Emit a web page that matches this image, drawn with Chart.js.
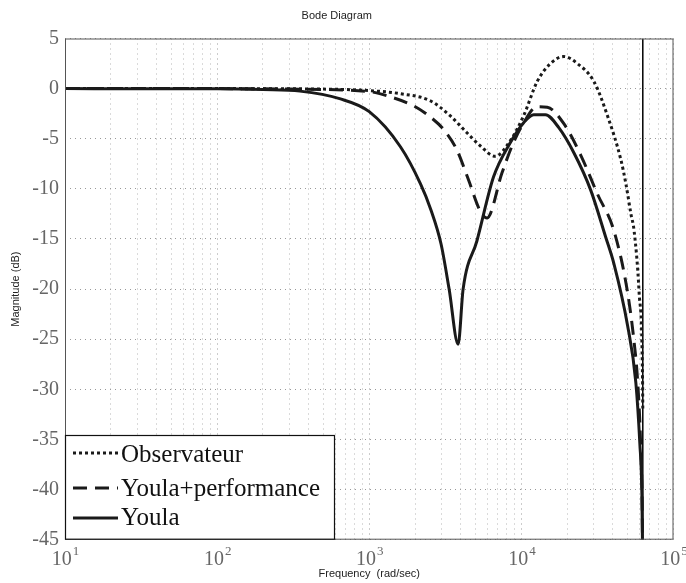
<!DOCTYPE html>
<html>
<head>
<meta charset="utf-8">
<script src="https://cdn.jsdelivr.net/npm/chart.js@4.4.1/dist/chart.umd.min.js"></script>
<style>
  html, body { margin: 0; padding: 0; background: #fff; }
  #wrap { width: 686px; height: 583px; }
</style>
</head>
<body>
<div id="wrap"><canvas id="bode"></canvas></div>
<script>
// Bode magnitude, values (rad/sec, dB)

const obsFreq = [10, 100, 500, 1000, 1590, 2506, 3400, 4385, 5360, 6730, 8450, 10350, 12700, 15520,
    19020, 23330, 30000, 36800, 45100, 48650, 52500, 55100, 59400, 62600, 62832]
const obsMag = [0, 0, -0.05, -0.2, -0.5, -1.2, -2.7, -4.4, -5.7, -6.75, -5.2, -2.7, 0.7, 2.5,
    3.2, 2.5, 0.7, -2.7, -7.1, -9.5, -12.5, -14.2, -20.3, -29, -32]

const perfFreq = [10, 100, 300, 1000, 1300, 1945, 2506, 3070, 3764, 4490, 5360, 5940, 7460, 8690,
    10350, 12700, 14790, 19020, 24500, 31600, 40640, 49860, 55100, 58000, 61000, 62300, 62800]
const perfMag = [0, 0, -0.05, -0.3, -0.7, -1.7, -2.8, -4.05, -6.1, -9.1, -12.2, -12.9, -8.4, -5.7,
    -3.4, -1.8, -1.85, -3.5, -6.6, -10.5, -14.2, -20.3, -25.3, -29, -36, -42, -50]

const youlaFreq = [10, 100, 200, 350, 638, 1000, 1603, 2172, 2530, 2965, 3350, 3840, 4140, 5100,
    6565, 8450, 10350, 12050, 14390, 17620, 22130, 28520, 35810, 40640, 49860, 56530, 60070, 61960, 62700]
const youlaMag = [0, -0.02, -0.1, -0.25, -1.0, -2.3, -5.8, -9.5, -12, -15.5, -20, -25.5, -20, -15.2,
    -8.8, -5.4, -3.4, -2.6, -2.6, -3.9, -6.4, -10.1, -14.8, -17.5, -23.6, -29.3, -35.4, -40.4, -47]

// vertical marker at the Nyquist frequency
const nyquistFreq = [62832, 62832]
const nyquistMag = [5, -45]

const seriesNames = ['Observateur', 'Youla+performance', 'Youla']

const xTickValues = [10, 100, 1000, 10000, 100000]
const xTickExponents = ['1', '2', '3', '4', '5']
const yMin = -45
const yMax = 5
const yStep = 5

const serif = '"Liberation Serif", "Times New Roman", serif'
const sans = '"Liberation Sans", Arial, sans-serif'

const toPoints = (xs, ys) => xs.map((x, i) => ({ x: x, y: ys[i] }))

// grid positions 1..9 per decade
let xGrid = []
for (let d = 10; d < 100000; d *= 10) {
    for (let m = 1; m < 10; m++) xGrid.push(m * d)
}
xGrid.push(100000)

const styles = [
    { dash: [3, 3] },
    { dash: [14, 8] },
    { dash: [] }
]

const legendBox = {
    id: 'legendBox',
    afterDraw(chart) {
        const { ctx, chartArea: a } = chart
        ctx.save()

        // frame round the axes
        ctx.strokeStyle = '#555'
        ctx.lineWidth = 1
        ctx.strokeRect(a.left + 0.5, a.top + 0.5, a.right - a.left - 1, a.bottom - a.top - 1)

        // x labels as 10^n
        ctx.fillStyle = '#666'
        ctx.textBaseline = 'alphabetic'
        xTickValues.forEach((v, i) => {
            const px = chart.scales.x.getPixelForValue(v)
            ctx.font = '20px ' + serif
            const w1 = ctx.measureText('10').width
            ctx.font = '13px ' + serif
            const w2 = ctx.measureText(xTickExponents[i]).width
            const left = px - (w1 + w2) / 2
            ctx.font = '20px ' + serif
            ctx.textAlign = 'left'
            ctx.fillText('10', left, 565)
            ctx.font = '13px ' + serif
            ctx.fillText(xTickExponents[i], left + w1 + 1, 555)
        })

        // legend
        const x0 = a.left + 0.5
        const y1 = a.bottom - 0.5
        const top = 435.5
        const right = 334.5
        ctx.fillStyle = '#fff'
        ctx.fillRect(x0, top, right - x0, y1 - top)
        ctx.strokeStyle = '#111'
        ctx.lineWidth = 1.2
        ctx.strokeRect(x0, top, right - x0, y1 - top)

        const rows = [453, 488, 518]
        const base = [462, 496, 525]
        ctx.font = '25px ' + serif
        ctx.textAlign = 'left'
        seriesNames.forEach((name, i) => {
            ctx.strokeStyle = '#1a1a1a'
            ctx.lineWidth = 3
            ctx.setLineDash(styles[i].dash)
            ctx.beginPath()
            ctx.moveTo(73, rows[i])
            ctx.lineTo(118, rows[i])
            ctx.stroke()
            ctx.setLineDash([])
            ctx.fillStyle = '#111'
            ctx.fillText(name, 121, base[i])
        })
        ctx.restore()
    }
}

const ctx = document.getElementById('bode').getContext('2d')

const seriesData = [toPoints(obsFreq, obsMag), toPoints(perfFreq, perfMag), toPoints(youlaFreq, youlaMag)]

let datasets = seriesNames.map((name, i) => ({
    label: name,
    data: seriesData[i],
    borderColor: '#1a1a1a',
    borderWidth: 3,
    borderDash: styles[i].dash,
    borderCapStyle: 'butt',
    pointRadius: 0,
    fill: false,
    cubicInterpolationMode: 'monotone'
}))

datasets.push({
    label: 'nyquist',
    data: toPoints(nyquistFreq, nyquistMag),
    borderColor: '#000',
    borderWidth: 1.5,
    pointRadius: 0,
    fill: false
})

new Chart(ctx, {
    type: 'line',
    data: { datasets },
    options: {
        responsive: true,
        maintainAspectRatio: false,
        animation: false,
        layout: { padding: { left: 0, right: 12.5, top: 0, bottom: 0 } },
        plugins: {
            legend: { display: false },
            tooltip: { enabled: false },
            title: {
                display: true,
                text: 'Bode Diagram',
                color: '#222',
                font: { family: sans, size: 11, weight: 'normal' },
                padding: { top: 9, bottom: 16.3 }
            }
        },
        scales: {
            x: {
                type: 'logarithmic',
                min: 10,
                max: 100000,
                afterBuildTicks: scale => {
                    scale.ticks = xGrid.map(v => ({ value: v }))
                },
                afterFit: scale => { scale.height = 43.3 },
                ticks: { display: false, autoSkip: false },
                grid: {
                    drawTicks: false,
                    color: c => (xTickValues.includes(c.tick && c.tick.value) ? '#999' : '#b5b5b5'),
                    lineWidth: 1
                },
                border: { display: false, dash: [1, 4] },
                title: {
                    display: true,
                    text: 'Frequency  (rad/sec)',
                    color: '#222',
                    font: { family: sans, size: 11 },
                    padding: { top: 0, bottom: 2.4 }
                }
            },
            y: {
                min: yMin,
                max: yMax,
                afterFit: scale => { scale.width = 65 },
                ticks: {
                    stepSize: yStep,
                    color: '#666',
                    padding: 6,
                    font: { family: serif, size: 20 }
                },
                grid: { drawTicks: false, color: '#999', lineWidth: 1 },
                border: { display: false, dash: [1, 4] },
                title: {
                    display: true,
                    text: 'Magnitude (dB)',
                    color: '#222',
                    font: { family: sans, size: 11 },
                    padding: { top: 9.5, bottom: 0 }
                }
            }
        }
    },
    plugins: [legendBox]
})
</script>
</body>
</html>
